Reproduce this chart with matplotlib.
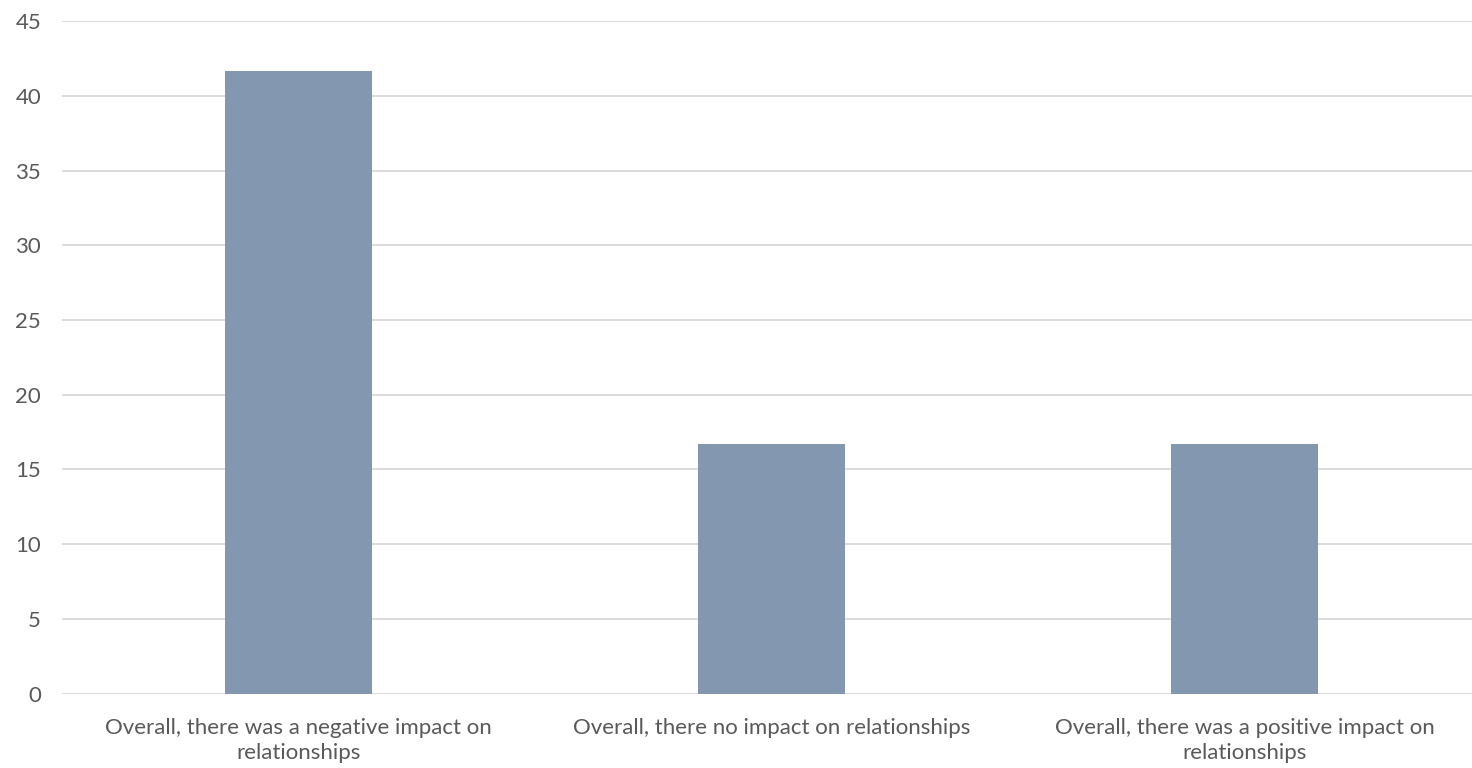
import matplotlib
matplotlib.use("Agg")
import matplotlib.pyplot as plt

categories = [
    "Overall, there was a negative impact on\nrelationships",
    "Overall, there no impact on relationships",
    "Overall, there was a positive impact on\nrelationships",
]
values = [41.67, 16.67, 16.67]
y_ticks = [0, 5, 10, 15, 20, 25, 30, 35, 40, 45]

plt.rcParams["font.family"] = ["Lato", "DejaVu Sans"]

fig = plt.figure(figsize=(14.72, 7.68), dpi=100)
ax = fig.add_axes([62 / 1472, 1 - 693.5 / 768, 1419 / 1472, (693.5 - 21.3) / 768])

x = list(range(len(categories)))
ax.bar(x, values, width=0.31, color="#8497B0", zorder=3)

ax.set_xlim(-0.5, len(categories) - 0.5)
ax.set_ylim(0, 45)
ax.set_yticks(y_ticks)
ax.set_xticks(x)
ax.set_xticklabels(categories, fontsize=16, color="#595959", linespacing=1.3)
ax.tick_params(axis="y", labelsize=16, labelcolor="#595959", length=0, pad=15)
ax.tick_params(axis="x", length=0, pad=18)

ax.grid(axis="y", color="#D9D9D9", linewidth=1.3, zorder=0)
for s in ax.spines.values():
    s.set_visible(False)

fig.savefig("out.png", dpi=100)
